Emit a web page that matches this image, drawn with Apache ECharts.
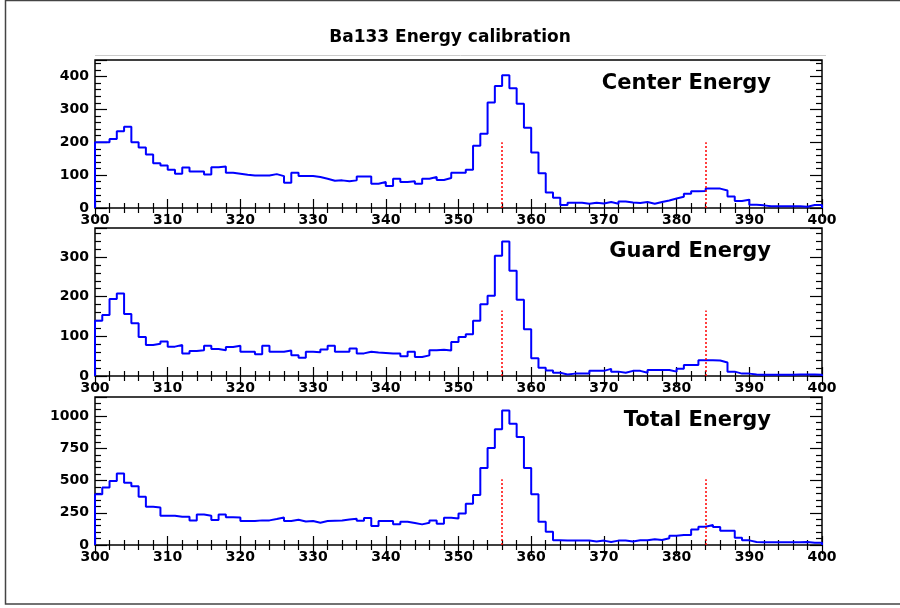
<!DOCTYPE html>
<html>
<head>
<meta charset="utf-8">
<script src="https://cdn.jsdelivr.net/npm/echarts@6/dist/echarts.min.js"></script>
<style>
html,body{margin:0;padding:0;background:#fff;}
#chart{width:900px;height:608px;}
</style>
</head>
<body>
<div id="chart"></div>
<script>
// ---- data ----
const chartTitle = 'Ba133 Energy calibration';
const panelNames = ['Center Energy', 'Guard Energy', 'Total Energy'];
const binStart = 300;   // left edge of first bin (keV)
const binWidth = 1;
const xMin = 300, xMax = 400, xInterval = 10;

const centerCounts = [
  200,200,210,233,247,200,184,163,136,129,
  116,104,123,111,111,102,124,126,107,104,
  101,99,99,99,103,97,77,107,97,97,
  94,89,83,84,81,84,96,96,74,79,
  67,89,79,81,74,89,94,85,91,107,
  107,116,189,226,321,371,404,364,317,244,
  169,106,47,31,9,16,16,13,16,14,
  18,13,20,17,15,18,13,18,23,29,
  34,43,51,52,59,59,53,35,21,25,
  10,8,5,5,5,5,5,4,9,9
];
const guardCounts = [
  139,154,194,208,156,133,98,78,81,87,
  74,78,57,63,65,76,68,65,73,76,
  61,61,55,76,61,61,64,52,46,61,
  60,67,76,61,61,69,57,61,59,58,
  57,57,50,61,48,52,65,66,64,86,
  98,105,139,181,202,303,339,265,192,118,
  45,21,14,8,4,6,6,6,13,13,
  18,11,8,13,13,8,15,15,15,11,
  18,28,28,40,40,39,34,11,6,6,
  4,3,3,3,3,3,4,4,4,3
];
const totalCounts = [
  394,446,497,554,482,456,374,296,291,227,
  227,219,219,191,237,227,193,237,216,214,
  186,186,191,191,201,214,186,196,183,186,
  173,186,188,190,198,204,188,209,147,186,
  186,160,180,170,160,173,191,165,211,206,
  245,320,387,598,753,897,1044,941,838,598,
  394,180,103,36,34,34,34,34,28,34,
  23,34,34,28,36,36,44,39,52,72,
  77,77,121,142,155,139,111,111,57,36,
  23,21,21,21,21,21,21,23,18,18
];
const panelCounts = [centerCounts, guardCounts, totalCounts];
const yMaxes = [450, 373, 1148];
const yIntervals = [100, 100, 250];
const peakLines = [356, 384];          // reference peak energies
const peakLineHeights = [200, 165, 510];

// ---- build ----
const gridTops = [60, 228, 397];
const gridH = 148;
const gridLeft = 95, gridRight = 78;
const fontFam = '"DejaVu Sans", sans-serif';

function histData(counts) {
  const d = [[binStart, 0]];
  counts.forEach((v, i) => d.push([binStart + i * binWidth, v]));
  d.push([binStart + counts.length * binWidth, counts[counts.length - 1]]);
  d.push([binStart + counts.length * binWidth, 0]);
  return d;
}
const plain = v => String(v);

const grids = [], xAxes = [], yAxes = [], series = [], graphics = [];
panelCounts.forEach((counts, p) => {
  grids.push({left: gridLeft, right: gridRight, top: gridTops[p], height: gridH,
    show: true, borderColor: '#000', borderWidth: 1.5, backgroundColor: 'transparent'});
  const xCommon = {type: 'value', gridIndex: p, min: xMin, max: xMax, interval: xInterval,
    splitLine: {show: false}, axisLine: {show: false},
    axisTick: {show: true, inside: true, length: 9, lineStyle: {color: '#000', width: 1.2}},
    minorTick: {show: true, splitNumber: 5, length: 5, lineStyle: {color: '#000', width: 1.2}},
    minorSplitLine: {show: false}};
  xAxes.push(Object.assign({}, xCommon, {position: 'bottom',
    axisLabel: {show: true, margin: 5, formatter: plain, color: '#000', fontFamily: fontFam, fontWeight: 'bold', fontSize: 14}}));
  xAxes.push(Object.assign({}, xCommon, {position: 'top', axisLabel: {show: false}}));
  const yCommon = {type: 'value', gridIndex: p, min: 0, max: yMaxes[p], interval: yIntervals[p],
    splitLine: {show: false}, axisLine: {show: false},
    axisTick: {show: true, inside: true, length: 12, lineStyle: {color: '#000', width: 1.2}},
    minorTick: {show: true, splitNumber: 5, length: 6, lineStyle: {color: '#000', width: 1.2}},
    minorSplitLine: {show: false}};
  yAxes.push(Object.assign({}, yCommon, {position: 'left',
    axisLabel: {show: true, margin: 6, showMaxLabel: false, formatter: plain, color: '#000', fontFamily: fontFam, fontWeight: 'bold', fontSize: 14}}));
  yAxes.push(Object.assign({}, yCommon, {position: 'right', axisLabel: {show: false}}));

  series.push({
    type: 'line', name: panelNames[p], xAxisIndex: 2 * p, yAxisIndex: 2 * p,
    data: histData(counts), step: 'end', symbol: 'none', clip: false,
    lineStyle: {color: '#0000ff', width: 2}, animation: false,
    markLine: {silent: true, symbol: ['none', 'none'], label: {show: false}, animation: false,
      lineStyle: {color: '#ff0000', type: [2, 2], width: 1.5},
      data: peakLines.map(x => [{coord: [x, 0]}, {coord: [x, peakLineHeights[p]]}])}
  });

  graphics.push({type: 'text', right: 900 - 771, top: gridTops[p] + 13, z: 10,
    style: {text: panelNames[p], font: 'bold 21px ' + fontFam, fill: '#000'}});
});

// outer canvas frame and title box line
graphics.push({type: 'rect', shape: {x: 5.5, y: 0.5, width: 920, height: 603.5}, z: -1,
  style: {fill: 'none', stroke: '#444', lineWidth: 1.5}});
graphics.push({type: 'line', shape: {x1: 95, y1: 55.5, x2: 826, y2: 55.5}, z: -1,
  style: {stroke: '#ccc', lineWidth: 1}});

const chart = echarts.init(document.getElementById('chart'), null, {renderer: 'canvas'});
chart.setOption({
  animation: false,
  backgroundColor: '#fff',
  title: {text: chartTitle, left: 'center', top: 24, itemGap: 0,
    textStyle: {fontFamily: fontFam, fontWeight: 'bold', fontSize: 17, color: '#000'}},
  grid: grids, xAxis: xAxes, yAxis: yAxes, series: series, graphic: graphics
});
</script>
</body>
</html>
